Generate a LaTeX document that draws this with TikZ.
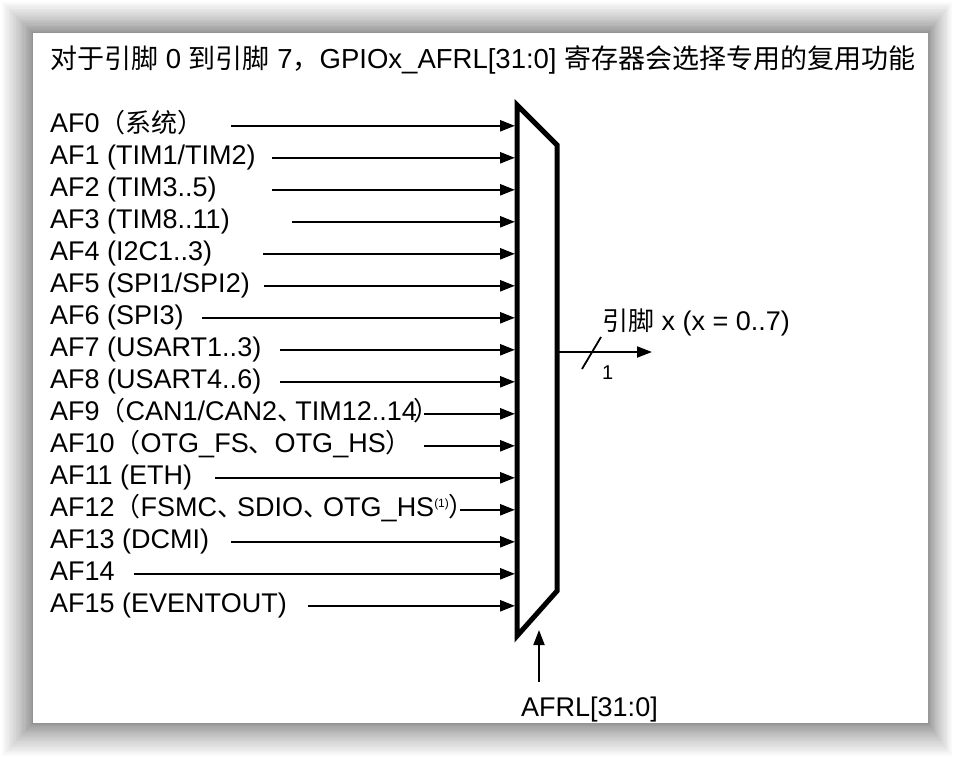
\documentclass[tikz,border=0pt]{standalone}
\usepackage{fontspec}
\setmainfont{Liberation Sans}
\newfontfamily\cjkfont{Noto Sans CJK SC}
\usetikzlibrary{arrows.meta,positioning}
\newcommand\zh[2][26]{{\cjkfont\fontsize{#1}{30}\selectfont #2}}
\newcommand\fnmark[1]{\raisebox{9pt}{\fontsize{12}{12}\selectfont(#1)}}

\begin{document}
\begin{tikzpicture}[x=1pt,y=-1pt,
	lbl/.style={inner sep=0pt,anchor=base west,font=\fontsize{27}{30}\selectfont},
	sig/.style={-{Triangle[length=15pt,width=11pt]},line width=2.4pt},
	mux/.style={line width=5pt,line join=miter}]
\useasboundingbox (0,0) rectangle (962,758);
\foreach \k in {1,...,30}
	\fill[black,opacity=0.018] ({33-31*(\k/30)^1.7},{33-31*(\k/30)^1.7}) rectangle ({928+24*(\k/30)^1.7},{723+33*(\k/30)^1.7});
\fill[white] (33,33) rectangle (928,723);

\node[lbl,font=\fontsize{27.5}{30}\selectfont] (title) at (50,68) {\zh[27]{对于引脚} 0 \zh[27]{到引脚} 7\zh[27]{，}GPIOx\_AFRL[31:0] \zh[27]{寄存器会选择专用的复用功能}};

\draw[mux] (517,105) coordinate (m1) -- (557,145) coordinate (m2) -- (557,591) coordinate (m3) -- (517,636) coordinate (m4) -- cycle;

\foreach \t/\xs [count=\n from 0] in {{AF0\zh{（系统）}}/231,{AF1 (TIM1/TIM2)}/272,{AF2 (TIM3..5)}/272,{AF3 (TIM8..11)}/292,
		{AF4 (I2C1..3)}/263,{AF5 (SPI1/SPI2)}/264,{AF6 (SPI3)}/202,{AF7 (USART1..3)}/280,{AF8 (USART4..6)}/280,
		{AF9\zh{（}CAN1/CAN2\zh{、}\kern-8pt TIM12..14\kern-3pt\zh{）}}/424,{AF10\zh{（}OTG\_FS\zh{、}OTG\_HS\zh{）}}/424,{AF11 (ETH)}/215,
		{AF12\zh{（}FSMC\zh{、}\kern-6pt SDIO\zh{、}\kern-6pt OTG\_HS\fnmark{1}\zh{）}}/460,{AF13 (DCMI)}/231,{AF14}/134,{AF15 (EVENTOUT)}/308}{
	\node[lbl] (AF\n) at (50,{132.8+32*\n}) {\t};
	\coordinate (s\n) at (\xs,{125.8+32*\n});
	\coordinate (e\n) at (515,{125.8+32*\n});
	\draw[sig] (s\n) -- (e\n);
}

\coordinate (out) at (652,352);
\draw[sig,line width=2pt] (m2 |- out) -- (out);
\draw[line width=1.8pt] (582,369) -- (601,337);
\node[lbl,font=\fontsize{20}{22}\selectfont] (width) at (602,379) {1};
\node[lbl] (pin) at (602,330) {\zh{引脚} x (x = 0..7)};

\node[lbl] (sel) at (521,716) {AFRL[31:0]};
\coordinate (st) at (539,630);
\draw[sig,line width=2pt] ([yshift=14pt]sel.north -| st) -- (st);
\end{tikzpicture}
\end{document}
